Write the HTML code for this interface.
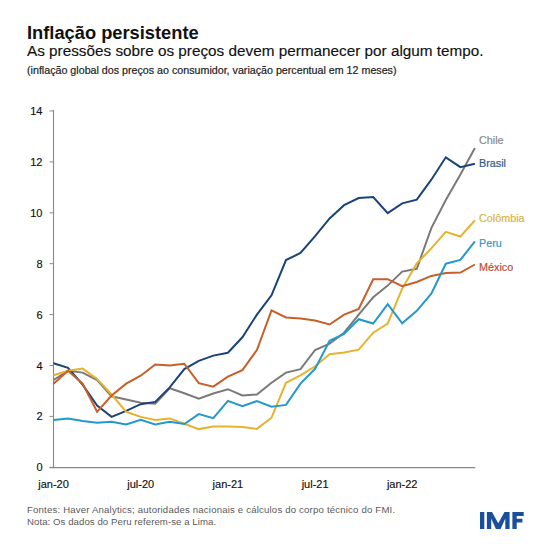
<!DOCTYPE html>
<html><head><meta charset="utf-8"><style>
html,body{margin:0;padding:0;background:#fff;}
body{width:550px;height:550px;position:relative;overflow:hidden;font-family:"Liberation Sans",sans-serif;color:#1a1a1a;}
.t{position:absolute;white-space:nowrap;left:27px;}
#title{top:22px;font-size:18.3px;font-weight:bold;line-height:22px;color:#111;}
#sub{top:42px;font-size:15.3px;line-height:18px;color:#111;-webkit-text-stroke:0.15px #111;}
#note{top:63px;font-size:10.7px;line-height:14px;color:#222;-webkit-text-stroke:0.2px #222;}
svg{position:absolute;left:0;top:0;}
.ax{font-family:"Liberation Sans",sans-serif;font-size:11px;fill:#111;stroke:#111;stroke-width:0.15px;}
.lg{font-family:"Liberation Sans",sans-serif;font-size:10.8px;stroke-width:0.2px;}
#src{top:503px;font-size:9.6px;line-height:14px;color:#5a5a5a;letter-spacing:0.186px;}
#src2{top:515px;font-size:9.6px;line-height:14px;color:#5a5a5a;letter-spacing:0.075px;}
#imf{position:absolute;left:479px;top:509px;font-size:22px;font-weight:bold;color:#1c4a8a;line-height:24px;}
</style></head><body>
<div class="t" id="title">Inflação persistente</div>
<div class="t" id="sub">As pressões sobre os preços devem permanecer por algum tempo.</div>
<div class="t" id="note">(inflação global dos preços ao consumidor, variação percentual em 12 meses)</div>
<svg width="550" height="550" viewBox="0 0 550 550">
<line x1="53.5" y1="110" x2="53.5" y2="467.6" stroke="#888" stroke-width="1.1"/>
<line x1="49.5" y1="467.6" x2="475.2" y2="467.6" stroke="#888" stroke-width="1.2"/>
<line x1="49.5" y1="467.3" x2="53.5" y2="467.3" stroke="#8c8c8c" stroke-width="1"/><text x="42.5" y="471.3" text-anchor="end" class="ax">0</text><line x1="49.5" y1="416.4" x2="53.5" y2="416.4" stroke="#8c8c8c" stroke-width="1"/><text x="42.5" y="420.4" text-anchor="end" class="ax">2</text><line x1="49.5" y1="365.5" x2="53.5" y2="365.5" stroke="#8c8c8c" stroke-width="1"/><text x="42.5" y="369.5" text-anchor="end" class="ax">4</text><line x1="49.5" y1="314.6" x2="53.5" y2="314.6" stroke="#8c8c8c" stroke-width="1"/><text x="42.5" y="318.6" text-anchor="end" class="ax">6</text><line x1="49.5" y1="263.7" x2="53.5" y2="263.7" stroke="#8c8c8c" stroke-width="1"/><text x="42.5" y="267.7" text-anchor="end" class="ax">8</text><line x1="49.5" y1="212.8" x2="53.5" y2="212.8" stroke="#8c8c8c" stroke-width="1"/><text x="42.5" y="216.8" text-anchor="end" class="ax">10</text><line x1="49.5" y1="161.9" x2="53.5" y2="161.9" stroke="#8c8c8c" stroke-width="1"/><text x="42.5" y="165.9" text-anchor="end" class="ax">12</text><line x1="49.5" y1="111.0" x2="53.5" y2="111.0" stroke="#8c8c8c" stroke-width="1"/><text x="42.5" y="115.0" text-anchor="end" class="ax">14</text>
<text x="53.5" y="487.6" text-anchor="middle" class="ax">jan-20</text><text x="140.7" y="487.6" text-anchor="middle" class="ax">jul-20</text><text x="227.9" y="487.6" text-anchor="middle" class="ax">jan-21</text><text x="315.1" y="487.6" text-anchor="middle" class="ax">jul-21</text><text x="402.2" y="487.6" text-anchor="middle" class="ax">jan-22</text>
<polyline points="53.5,380.0 68.0,370.8 82.6,372.6 97.1,380.0 111.6,396.3 126.2,399.6 140.7,402.7 155.2,403.7 169.7,388.2 184.3,393.2 198.8,398.8 213.3,393.5 227.9,389.2 242.4,395.5 256.9,394.5 271.5,382.8 286.0,372.6 300.5,369.1 315.1,350.0 329.6,343.6 344.1,332.7 358.7,314.6 373.2,297.3 387.7,285.6 402.2,271.6 416.8,268.8 431.3,228.1 445.8,200.1 460.4,174.6 474.9,147.9" fill="none" stroke="#7a7a7a" stroke-width="2.0" stroke-linejoin="miter" stroke-linecap="butt"/><polyline points="53.5,363.2 68.0,367.8 82.6,384.6 97.1,405.5 111.6,416.9 126.2,410.8 140.7,404.2 155.2,401.9 169.7,387.4 184.3,369.1 198.8,360.9 213.3,355.6 227.9,352.8 242.4,337.3 256.9,314.6 271.5,295.3 286.0,260.1 300.5,253.0 315.1,236.2 329.6,218.4 344.1,205.2 358.7,198.0 373.2,197.0 387.7,213.1 402.2,203.4 416.8,199.6 431.3,179.7 445.8,157.3 460.4,167.2 474.9,163.7" fill="none" stroke="#1a4478" stroke-width="2.0" stroke-linejoin="miter" stroke-linecap="butt"/><polyline points="53.5,375.2 68.0,370.8 82.6,368.6 97.1,379.0 111.6,394.5 126.2,411.8 140.7,416.9 155.2,420.0 169.7,418.4 184.3,423.8 198.8,429.1 213.3,426.6 227.9,426.6 242.4,427.1 256.9,428.9 271.5,417.7 286.0,382.8 300.5,375.4 315.1,366.3 329.6,354.3 344.1,352.5 358.7,349.7 373.2,332.7 387.7,323.5 402.2,288.6 416.8,263.4 431.3,248.4 445.8,231.9 460.4,236.5 474.9,220.4" fill="none" stroke="#e6b32e" stroke-width="2.0" stroke-linejoin="miter" stroke-linecap="butt"/><polyline points="53.5,383.8 68.0,370.8 82.6,383.6 97.1,411.8 111.6,395.5 126.2,383.6 140.7,375.7 155.2,364.5 169.7,365.5 184.3,363.7 198.8,383.1 213.3,386.6 227.9,376.7 242.4,370.1 256.9,350.0 271.5,310.3 286.0,317.4 300.5,318.4 315.1,320.5 329.6,324.5 344.1,314.6 358.7,309.0 373.2,279.2 387.7,279.2 402.2,286.1 416.8,282.0 431.3,275.9 445.8,272.9 460.4,272.6 474.9,264.5" fill="none" stroke="#c95f28" stroke-width="2.0" stroke-linejoin="miter" stroke-linecap="butt"/><polyline points="53.5,420.0 68.0,418.4 82.6,421.0 97.1,422.8 111.6,421.7 126.2,424.5 140.7,419.7 155.2,424.5 169.7,421.7 184.3,424.0 198.8,414.1 213.3,418.2 227.9,400.9 242.4,406.2 256.9,401.1 271.5,406.7 286.0,404.9 300.5,383.6 315.1,368.8 329.6,340.8 344.1,333.9 358.7,319.2 373.2,323.5 387.7,304.2 402.2,323.3 416.8,310.8 431.3,293.7 445.8,263.7 460.4,259.9 474.9,241.3" fill="none" stroke="#2598cb" stroke-width="2.0" stroke-linejoin="miter" stroke-linecap="butt"/>
<text x="479" y="143.8" class="lg" fill="#8a8a8a" stroke="#8a8a8a">Chile</text><text x="479" y="167.4" class="lg" fill="#2c5c90" stroke="#2c5c90">Brasil</text><text x="479" y="222" class="lg" fill="#d9b244" stroke="#d9b244">Colômbia</text><text x="479" y="246.8" class="lg" fill="#3399c8" stroke="#3399c8">Peru</text><text x="479" y="270.6" class="lg" fill="#bd4d34" stroke="#bd4d34">México</text>
</svg>
<div class="t" id="src">Fontes: Haver Analytics; autoridades nacionais e cálculos do corpo técnico do FMI.</div>
<div class="t" id="src2">Nota: Os dados do Peru referem-se a Lima.</div>
<svg width="550" height="550" viewBox="0 0 550 550" style="position:absolute;left:0;top:0">
<g fill="#1a4f9b">
<rect x="480" y="512" width="4.3" height="17"/>
<path d="M486.9 512 H492 L498.25 523.2 L504.5 512 H509.6 V529 H505.3 V518.5 L500.6 529 H495.9 L491.2 518.5 V529 H486.9 Z"/>
<path d="M512.4 512 H523.7 V516 H516.7 V518.8 H522.4 V522.5 H516.7 V529 H512.4 Z"/>
</g></svg>
</body></html>
